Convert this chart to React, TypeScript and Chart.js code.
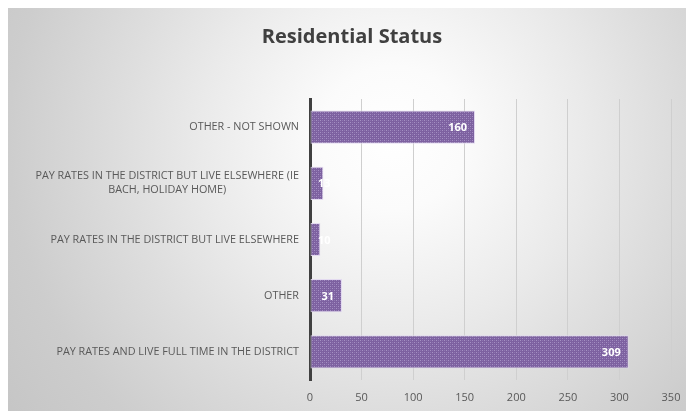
import React, { useEffect, useRef } from "react";
import { Chart, registerables } from "chart.js";

Chart.register(...registerables);

const title = "Residential Status";
const categories: (string | string[])[] = [
  "OTHER - NOT SHOWN",
  ["PAY RATES IN THE DISTRICT BUT LIVE ELSEWHERE (IE", "BACH, HOLIDAY HOME)"],
  "PAY RATES IN THE DISTRICT BUT LIVE ELSEWHERE",
  "OTHER",
  "PAY RATES AND LIVE FULL TIME IN THE DISTRICT",
];
const values = [160, 13, 10, 31, 309];
const xTicks = [0, 50, 100, 150, 200, 250, 300, 350];

const FAMILY = '"Open Sans", "Noto Sans", sans-serif';
const LABEL_FONT = "10.8px " + FAMILY;
const TEXT = "#595959";

function makePattern(): CanvasPattern | string {
  const c = document.createElement("canvas");
  c.width = 4;
  c.height = 4;
  const g = c.getContext("2d");
  if (!g) return "#8064a2";
  g.fillStyle = "#7d61a0";
  g.fillRect(0, 0, 4, 4);
  g.fillStyle = "#a591c3";
  g.fillRect(0, 0, 1, 1);
  g.fillRect(2, 2, 1, 1);
  g.fillStyle = "#8f76b2";
  g.fillRect(2, 0, 1, 1);
  g.fillRect(0, 2, 1, 1);
  const p = g.createPattern(c, "repeat");
  return p || "#8064a2";
}

const bgPlugin = {
  id: "bg",
  beforeDraw(chart: any) {
    const { ctx, width, height } = chart;
    ctx.save();
    const cx = 385;
    const cy = 130;
    const grad = ctx.createRadialGradient(cx, cy, 0, cx, cy, 480);
    grad.addColorStop(0, "#ffffff");
    grad.addColorStop(0.15, "#fbfbfb");
    grad.addColorStop(0.4, "#eaeaea");
    grad.addColorStop(0.56, "#dedede");
    grad.addColorStop(0.8, "#cdcdcd");
    grad.addColorStop(1, "#c5c5c5");
    ctx.fillStyle = grad;
    ctx.fillRect(0, 0, width, height);
    ctx.restore();
  },
  afterDraw(chart: any) {
    const { ctx, chartArea } = chart;
    ctx.save();
    // title
    ctx.fillStyle = "#404040";
    ctx.font = "bold 20px " + FAMILY;
    ctx.textAlign = "center";
    ctx.textBaseline = "middle";
    ctx.fillText(title, 344, 29);
    // category labels
    const yScale = chart.scales.y;
    ctx.font = LABEL_FONT;
    ctx.fillStyle = TEXT;
    const rightEdge = chartArea.left - 11;
    categories.forEach((lab, i) => {
      const y = yScale.getPixelForValue(i);
      const lines = Array.isArray(lab) ? lab : [lab];
      const widths = lines.map((l) => ctx.measureText(l).width);
      const maxW = Math.max(...widths);
      const center = rightEdge - maxW / 2;
      const lh = 14;
      lines.forEach((l, j) => {
        const ly = y + (j - (lines.length - 1) / 2) * lh;
        ctx.textAlign = "center";
        ctx.fillText(l, center, ly);
      });
    });
    // data labels
    const meta = chart.getDatasetMeta(0);
    ctx.font = "bold 11px " + FAMILY;
    ctx.fillStyle = "#ffffff";
    ctx.textAlign = "right";
    const base = chart.scales.x.getPixelForValue(0);
    meta.data.forEach((bar: any, i: number) => {
      const txt = String(values[i]);
      const w = ctx.measureText(txt).width;
      const right = Math.max(bar.x - 8, base + 8 + w);
      ctx.fillText(txt, right, bar.y + 1);
    });
    ctx.restore();
  },
};

export default function App() {
  const ref = useRef<HTMLCanvasElement | null>(null);
  useEffect(() => {
    if (!ref.current) return;
    const chart = new Chart(ref.current, {
      type: "bar",
      data: {
        labels: categories as any,
        datasets: [
          {
            data: values,
            backgroundColor: makePattern() as any,
            borderColor: "rgba(225,215,240,0.9)",
            borderWidth: 1,
            borderSkipped: false,
            categoryPercentage: 1,
            barPercentage: 0.59,
          },
        ],
      },
      plugins: [bgPlugin],
      options: {
        indexAxis: "y",
        animation: false,
        responsive: true,
        maintainAspectRatio: false,
        layout: { padding: { top: 91, right: 15, left: 0, bottom: 0 } },
        plugins: {
          legend: { display: false },
          tooltip: { enabled: false },
          title: { display: false },
        },
        scales: {
          x: {
            type: "linear",
            min: 0,
            max: 350,
            afterBuildTicks: (scale: any) => {
              scale.ticks = xTicks.map((v) => ({ value: v }));
            },
            afterFit: (scale: any) => {
              scale.height = 31;
              scale.paddingRight = 0;
              scale.paddingLeft = 0;
            },
            ticks: {
              color: TEXT,
              font: { size: 11, family: FAMILY },
              padding: 11,
              maxRotation: 0,
            },
            grid: { color: "#cfcfcf", lineWidth: 1, drawTicks: false },
            border: { display: false },
          },
          y: {
            type: "category",
            afterFit: (scale: any) => {
              scale.width = 302;
            },
            ticks: { display: false },
            grid: { display: false, drawTicks: false },
            border: { display: true, color: "#404040", width: 3 },
          },
        },
      },
    });
    return () => chart.destroy();
  }, []);
  return (
    <div style={{ position: "absolute", left: 8, top: 8, width: 678, height: 403 }}>
      <canvas ref={ref} />
    </div>
  );
}
